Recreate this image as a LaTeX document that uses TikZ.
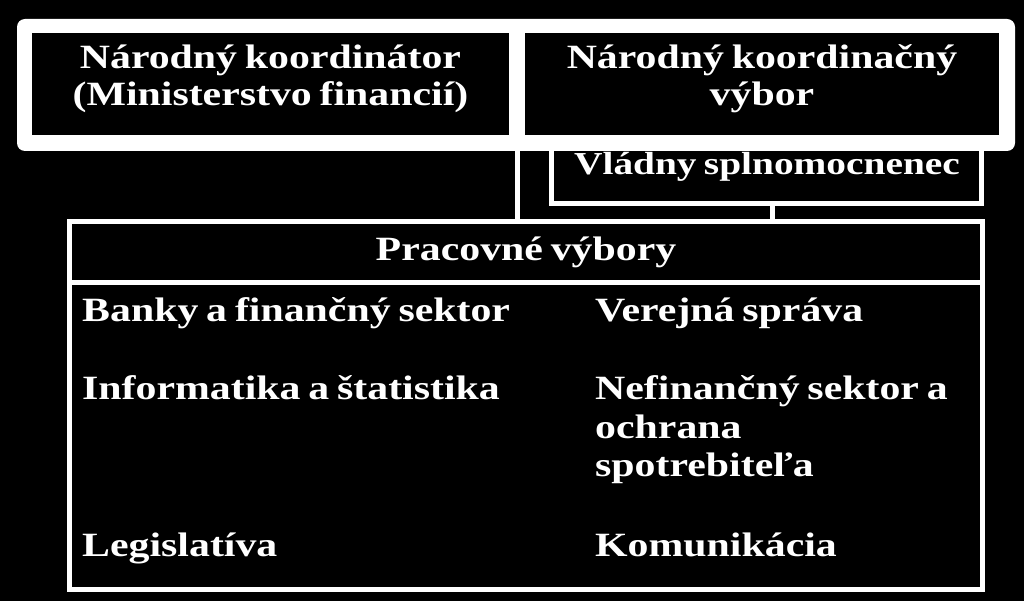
\documentclass[tikz,border=0pt]{standalone}
\usepackage{fontspec}
\setmainfont{Liberation Serif}[FakeStretch=1.23, WordSpace=0.75]
\begin{document}
\begin{tikzpicture}[x=1pt,y=-1pt,
  txt/.style={text=white, inner sep=0pt, font=\fontsize{34}{40}\selectfont\bfseries},
  txtsm/.style={text=white, inner sep=0pt, font=\fontsize{32}{38}\selectfont\bfseries},
  blackbox/.style={rectangle, fill=black, inner sep=0pt, outer sep=0pt},
  wbox/.style={rectangle, draw=white, line width=5pt, fill=black, inner sep=0pt},
  frame/.style={rectangle, fill=white, rounded corners=8pt, inner sep=0pt},
  conn/.style={draw=white, line width=5pt}]
\fill[black] (0,0) rectangle (1024,601);
\useasboundingbox (0,0) rectangle (1024,601);
% Vladny splnomocnenec box (top merges into frame)
\node[wbox, minimum width=430pt, minimum height=63.5pt] (vs) at (766.5,171.75) {};
% top frame
\node[frame, minimum width=998pt, minimum height=132pt] (top) at (516,85) {};
\node[blackbox, minimum width=477pt, minimum height=102pt] (nk) at (270.5,84) {};
\node[blackbox, minimum width=474pt, minimum height=102pt] (nkv) at (762,84) {};
% working committees box
\node[wbox, minimum width=913pt, minimum height=367.5pt] (prac) at (526,405.25) {};
\coordinate (divL) at (69.5,282.5);
\coordinate (divR) at (982.5,282.5);
\draw[conn] (divL) -- (divR);
% connectors
\coordinate (gap) at (517,150);
\coordinate (vsdrop) at (772.5,203.5);
\draw[conn] (gap) -- (gap |- prac.north);
\draw[conn] (vsdrop) -- (vsdrop |- prac.north);
% texts
\node[txt, anchor=base] (t1a) at (270.5,69) {Národný koordinátor};
\node[txt, anchor=base] (t1b) at (270.5,106) {(Ministerstvo financií)};
\node[txt, anchor=base] (t2a) at (762,69) {Národný koordinačný};
\node[txt, anchor=base] (t2b) at (762,106) {výbor};
\node[txtsm, anchor=base] (t3) at (767,175) {Vládny splnomocnenec};
\node[txt, anchor=base] (t4) at (526,261) {Pracovné výbory};
\node[txt, anchor=base west] (l1) at (82,321) {Banky a finančný sektor};
\node[txt, anchor=base west] (l2) at (82,399) {Informatika a štatistika};
\node[txt, anchor=base west] (l3) at (82,556) {Legislatíva};
\node[txt, anchor=base west] (r1) at (595,321) {Verejná správa};
\node[txt, anchor=base west] (r2a) at (595,399) {Nefinančný sektor a};
\node[txt, anchor=base west] (r2b) at (595,438) {ochrana};
\node[txt, anchor=base west] (r2c) at (595,476) {spotrebiteľa};
\node[txt, anchor=base west] (r3) at (595,556) {Komunikácia};
\end{tikzpicture}
\end{document}
